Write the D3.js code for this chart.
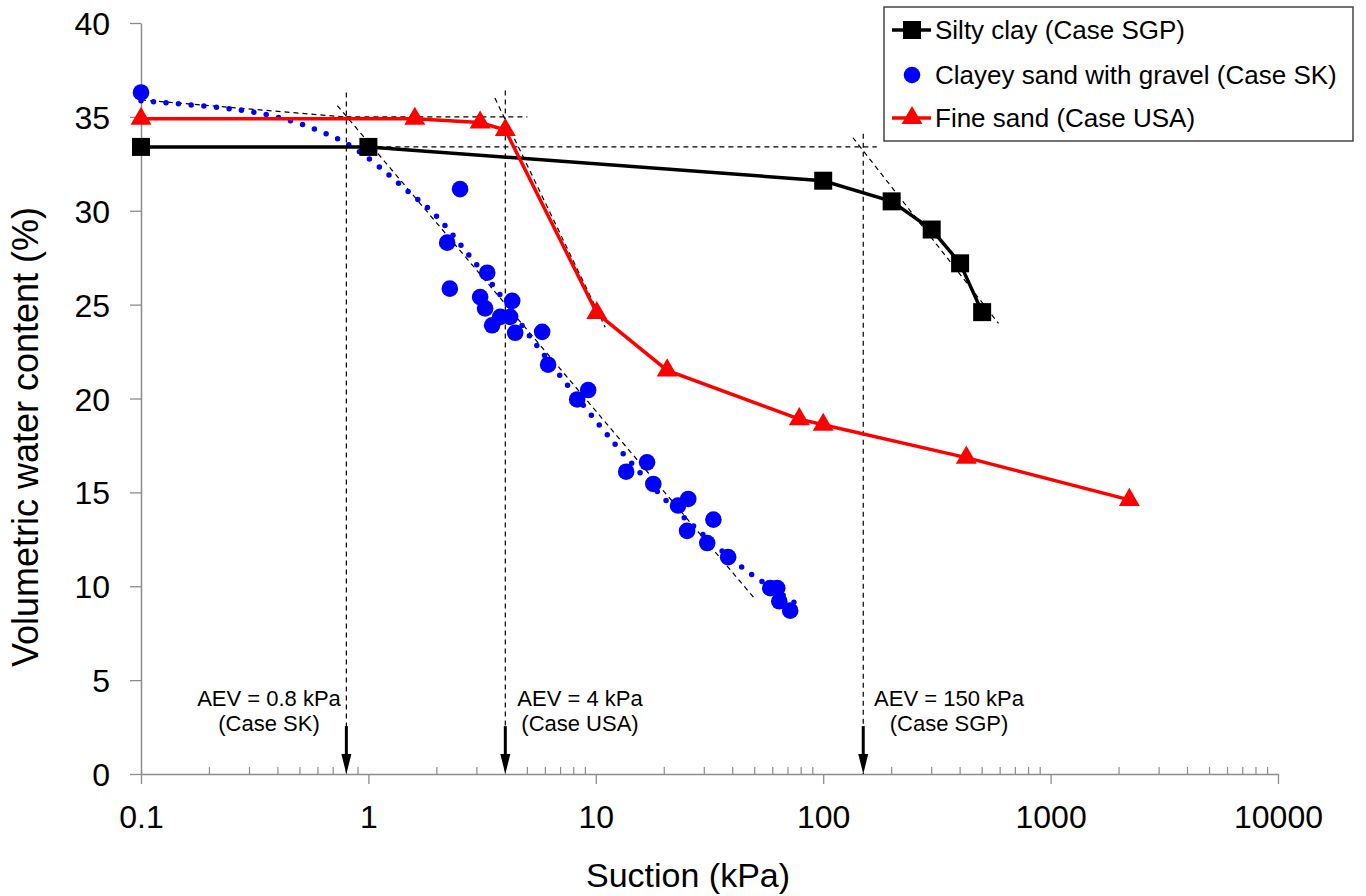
<!DOCTYPE html>
<html>
<head>
<meta charset="utf-8">
<script src="https://cdn.jsdelivr.net/npm/d3@7"></script>
<style>
  html, body { margin: 0; padding: 0; background: #fff; }
  svg { display: block; font-family: "Liberation Sans", Arial, sans-serif; }
</style>
</head>
<body>
<svg id="chart" width="1366" height="896"></svg>
<script>
// ---------------- DATA ----------------
const seriesNames = ["Silty clay (Case SGP)", "Clayey sand with gravel (Case SK)", "Fine sand (Case USA)"];

// Silty clay (Case SGP)
const siltySuction = [0.1, 1, 100, 200, 300, 400, 500];
const siltyTheta   = [33.4, 33.4, 31.6, 30.5, 29.0, 27.2, 24.6];

// Fine sand (Case USA)
const sandSuction = [0.1, 1.6, 3.1, 4.0, 10.1, 20.6, 78.5, 100, 426, 2220];
const sandTheta   = [34.9, 34.9, 34.7, 34.3, 24.55, 21.5, 18.9, 18.6, 16.85, 14.6];

// Clayey sand with gravel (Case SK) - measured points
const skSuction = [0.1, 2.53, 2.22, 2.28, 3.33, 3.1, 3.26, 3.5, 3.8, 4.2, 4.29, 4.42, 5.81, 6.17,
                   8.28, 9.26, 13.6, 16.8, 17.9, 23.0, 25.5, 25.2, 32.9, 30.9, 38.2, 58.5, 62.8, 64.1, 71.6];
const skTheta   = [36.3, 31.15, 28.3, 25.85, 26.7, 25.4, 24.8, 23.9, 24.35, 24.35, 25.2, 23.5, 23.55, 21.8,
                   19.95, 20.45, 16.1, 16.6, 15.45, 14.3, 14.65, 12.95, 13.55, 12.3, 11.55, 9.9, 9.9, 9.2, 8.7];

// Clayey sand fitted curve (dotted)
const fitSuction = [0.1, 0.31, 0.51, 0.81, 1.10, 1.47, 1.96, 2.72, 3.7, 5.0, 5.85, 7.4, 11.0, 12.9, 19.7, 28.7, 42, 51.6, 79];
const fitTheta   = [35.86, 35.26, 34.6, 33.55, 32.4, 31.1, 29.8, 27.75, 25.7, 23.5, 22.4, 20.8, 18.2, 17.2, 14.75, 12.9, 11.2, 10.4, 8.95];

// Construction (tangent) lines: [x1, y1, x2, y2]
const tangentLines = [
  [0.1, 35.9, 0.98, 34.9],     // SK flat
  [0.73, 35.6, 50.3, 9.3],     // SK steep
  [0.8, 35.0, 5.0, 35.0],      // USA flat
  [3.6, 36.0, 11.0, 23.8],     // USA steep
  [1.0, 33.4, 172, 33.4],      // SGP flat
  [135, 33.9, 590, 24.0]       // SGP steep
];

// AEV markers
const aevValues = [0.8, 4, 150];
const aevTop    = [36.3, 36.4, 34.1];
const aevLabel1 = ["AEV = 0.8 kPa", "AEV = 4 kPa", "AEV = 150 kPa"];
const aevLabel2 = ["(Case SK)", "(Case USA)", "(Case SGP)"];

// Axis ticks
const xTicks = [0.1, 1, 10, 100, 1000, 10000];
const xTickLabels = ["0.1", "1", "10", "100", "1000", "10000"];
const yTicks = [0, 5, 10, 15, 20, 25, 30, 35, 40];
const xTitle = "Suction (kPa)";
const yTitle = "Volumetric water content (%)";

// ---------------- CHART ----------------
const svg = d3.select("#chart");
const x = d3.scaleLog().domain([0.1, 10000]).range([141, 1278]);
const y = d3.scaleLinear().domain([0, 40]).range([774, 23]);
const axisColor = "#8c8c8c";

// Axes
const gx = svg.append("g").attr("transform", `translate(0,${y(0)})`)
  .call(d3.axisBottom(x).tickValues(xTicks).tickFormat((d, i) => xTickLabels[i]).tickSize(10).tickSizeOuter(0));
gx.select(".domain").attr("stroke", axisColor).attr("stroke-width", 1.5);
gx.selectAll(".tick line").attr("stroke", axisColor).attr("stroke-width", 1.3);
gx.selectAll(".tick text").attr("fill", "#000").attr("font-size", 32).attr("dy", 0).attr("y", 54)
  .attr("font-family", "Liberation Sans, Arial, sans-serif");

// minor ticks (inside)
const minor = [];
for (let e = -1; e < 4; e++) for (let m = 2; m <= 9; m++) minor.push(m * Math.pow(10, e));
svg.append("g").selectAll("line").data(minor).join("line")
  .attr("x1", d => x(d)).attr("x2", d => x(d))
  .attr("y1", y(0)).attr("y2", y(0) - 7)
  .attr("stroke", axisColor).attr("stroke-width", 1.2);

const gy = svg.append("g").attr("transform", `translate(${x(0.1)},0)`)
  .call(d3.axisLeft(y).tickValues(yTicks).tickSize(11).tickSizeOuter(0));
gy.select(".domain").attr("stroke", axisColor).attr("stroke-width", 1.5);
gy.selectAll(".tick line").attr("stroke", axisColor).attr("stroke-width", 1.3);
gy.selectAll(".tick text").attr("fill", "#000").attr("font-size", 32).attr("x", -31).attr("dy", "0.36em")
  .attr("font-family", "Liberation Sans, Arial, sans-serif");

// Axis titles
svg.append("text").attr("x", 688).attr("y", 887).attr("text-anchor", "middle")
  .attr("font-size", 34).attr("fill", "#000").text(xTitle);
svg.append("text").attr("transform", "translate(38,437) rotate(-90)").attr("text-anchor", "middle")
  .attr("font-size", 36).attr("fill", "#000").text(yTitle);

// Tangent dashed lines
svg.append("g").selectAll("line").data(tangentLines).join("line")
  .attr("x1", d => x(d[0])).attr("y1", d => y(d[1]))
  .attr("x2", d => x(d[2])).attr("y2", d => y(d[3]))
  .attr("stroke", "#000").attr("stroke-width", 1.2).attr("stroke-dasharray", "5,4");

// AEV vertical dashed lines + arrows
const aevG = svg.append("g");
aevValues.forEach((v, i) => {
  const px = x(v);
  aevG.append("line").attr("x1", px).attr("x2", px).attr("y1", y(aevTop[i])).attr("y2", y(0))
    .attr("stroke", "#000").attr("stroke-width", 1.2).attr("stroke-dasharray", "5,4");
  aevG.append("line").attr("x1", px).attr("x2", px).attr("y1", y(2.55)).attr("y2", y(0) - 16)
    .attr("stroke", "#000").attr("stroke-width", 3);
  aevG.append("path")
    .attr("d", `M${px - 5},${y(0) - 20} L${px + 5},${y(0) - 20} L${px},${y(0)} Z`)
    .attr("fill", "#000");
});
const labelX = [269, 580, 949];
aevValues.forEach((v, i) => {
  aevG.append("text").attr("x", labelX[i]).attr("y", 706).attr("text-anchor", "middle")
    .attr("font-size", 22).attr("fill", "#000").text(aevLabel1[i]);
  aevG.append("text").attr("x", labelX[i]).attr("y", 731).attr("text-anchor", "middle")
    .attr("font-size", 22).attr("fill", "#000").text(aevLabel2[i]);
});

// Fitted dotted curve (SK)
const fitData = fitSuction.map((s, i) => [s, fitTheta[i]]);
svg.append("path").datum(fitData)
  .attr("d", d3.line().x(d => x(d[0])).y(d => y(d[1])).curve(d3.curveCatmullRom))
  .attr("fill", "none").attr("stroke", "#0000ff").attr("stroke-width", 5.5)
  .attr("stroke-linecap", "round").attr("stroke-dasharray", "0,12.6");

// SK scatter
svg.append("g").selectAll("circle").data(skSuction.map((s, i) => [s, skTheta[i]])).join("circle")
  .attr("cx", d => x(d[0])).attr("cy", d => y(d[1])).attr("r", 8.3).attr("fill", "#0000ff");

// Silty clay line
const siltyData = siltySuction.map((s, i) => [s, siltyTheta[i]]);
svg.append("path").datum(siltyData)
  .attr("d", d3.line().x(d => x(d[0])).y(d => y(d[1])))
  .attr("fill", "none").attr("stroke", "#000").attr("stroke-width", 3.5);
svg.append("g").selectAll("rect").data(siltyData).join("rect")
  .attr("x", d => x(d[0]) - 9).attr("y", d => y(d[1]) - 9).attr("width", 18).attr("height", 18).attr("fill", "#000");

// Fine sand line
const sandData = sandSuction.map((s, i) => [s, sandTheta[i]]);
svg.append("path").datum(sandData)
  .attr("d", d3.line().x(d => x(d[0])).y(d => y(d[1])))
  .attr("fill", "none").attr("stroke", "#ff0000").attr("stroke-width", 3.5);
const tri = d3.symbol().type(d3.symbolTriangle).size(190);
svg.append("g").selectAll("path").data(sandData).join("path")
  .attr("transform", d => `translate(${x(d[0])},${y(d[1])})`)
  .attr("d", tri).attr("fill", "#ff0000");

// Legend
const lg = svg.append("g");
lg.append("rect").attr("x", 884).attr("y", 7).attr("width", 469).attr("height", 134)
  .attr("fill", "#fff").attr("stroke", "#444").attr("stroke-width", 1.5);
const rowsY = [30, 75, 118];
// row 1
lg.append("line").attr("x1", 892).attr("x2", 931).attr("y1", rowsY[0]).attr("y2", rowsY[0]).attr("stroke", "#000").attr("stroke-width", 3.5);
lg.append("rect").attr("x", 903).attr("y", rowsY[0] - 9).attr("width", 18).attr("height", 18).attr("fill", "#000");
// row 2
lg.append("circle").attr("cx", 912).attr("cy", rowsY[1]).attr("r", 8.3).attr("fill", "#0000ff");
// row 3
lg.append("line").attr("x1", 892).attr("x2", 931).attr("y1", rowsY[2]).attr("y2", rowsY[2]).attr("stroke", "#ff0000").attr("stroke-width", 3.5);
lg.append("path").attr("transform", `translate(912,${rowsY[2]})`).attr("d", tri).attr("fill", "#ff0000");
seriesNames.forEach((n, i) => {
  lg.append("text").attr("x", 935).attr("y", rowsY[i] + 9).attr("font-size", 26).attr("fill", "#000").text(n);
});
</script>
</body>
</html>
